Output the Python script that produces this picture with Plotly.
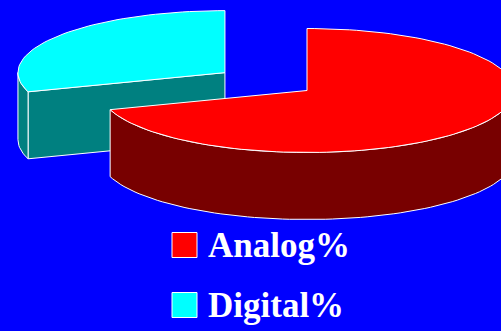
import numpy as np
import plotly.graph_objects as go

# ---- data ----
categories = ["Analog%", "Digital%"]
values = [70, 30]
top_colors = ["#FF0000", "#00FFFF"]
side_colors = ["#780000", "#008080"]
explode = [0.0, 0.49]

# ---- geometry / style (pixel space) ----
W, H = 501, 331
CX, CY = 307.0, 90.5      # pie centre
RX, RY = 207.0, 62.0      # ellipse radii
DEPTH = 67.0              # thickness
BG = "#0000FF"
EDGE = dict(color="white", width=1)

def pt(theta_deg, cx, cy, dz=0.0):
    t = np.radians(theta_deg)
    return cx + RX * np.sin(t), cy - RY * np.cos(t) + dz

def arc(a0, a1, cx, cy, dz=0.0, n=None):
    if n is None:
        n = max(2, int(abs(a1 - a0) / 2) + 2)
    th = np.linspace(a0, a1, n)
    xs, ys = pt(th, cx, cy, dz)
    return list(xs), list(ys)

total = sum(values)
slices = []
start = 0.0
for name, v, tc, sc, ex in zip(categories, values, top_colors, side_colors, explode):
    span = 360.0 * v / total
    a0, a1 = start, start + span
    mid = np.radians((a0 + a1) / 2)
    cx = CX + RX * ex * np.sin(mid)
    cy = CY - RY * ex * np.cos(mid)
    slices.append(dict(name=name, a0=a0, a1=a1, cx=cx, cy=cy, tc=tc, sc=sc))
    start = a1

# back-to-front ordering
slices.sort(key=lambda s: s["cy"])

fig = go.Figure()

def poly(xs, ys, color):
    fig.add_trace(go.Scatter(x=xs + [xs[0]], y=ys + [ys[0]], mode="lines",
                             fill="toself", fillcolor=color, line=EDGE,
                             hoverinfo="skip", showlegend=False))

for s in slices:
    a0, a1, cx, cy = s["a0"], s["a1"], s["cx"], s["cy"]
    # cut face at start edge
    if np.cos(np.radians(a0 - 90)) < -1e-6:
        rx_, ry_ = pt(a0, cx, cy)
        poly([cx, rx_, rx_, cx], [cy, ry_, ry_ + DEPTH, cy + DEPTH], s["sc"])
    # cut face at end edge
    if np.cos(np.radians(a1 + 90)) < -1e-6:
        rx_, ry_ = pt(a1, cx, cy)
        poly([cx, rx_, rx_, cx], [cy, ry_, ry_ + DEPTH, cy + DEPTH], s["sc"])
    # outer wall (front half)
    w0, w1 = max(a0, 90.0), min(a1, 270.0)
    if w1 > w0:
        tx, ty = arc(w0, w1, cx, cy)
        bx, by = arc(w1, w0, cx, cy, DEPTH)
        poly(tx + bx, ty + by, s["sc"])
    # top face
    ax, ay = arc(a0, a1, cx, cy)
    poly([cx] + ax, [cy] + ay, s["tc"])

# legend (manual)
leg_y = [245, 305]
for name, tc, yc in zip(categories, top_colors, leg_y):
    fig.add_shape(type="rect", xref="x", yref="y", x0=172, x1=197,
                  y0=yc - 12.5, y1=yc + 12.5, fillcolor=tc,
                  line=dict(color="white", width=1))
    fig.add_annotation(x=206, y=yc, xref="x", yref="y", text="<b>%s</b>" % name,
                       showarrow=False, xanchor="left", yanchor="middle",
                       font=dict(family="Liberation Serif, Times New Roman, serif",
                                 size=35, color="white"))

fig.update_layout(
    width=W, height=H, margin=dict(l=0, r=0, t=0, b=0),
    paper_bgcolor=BG, plot_bgcolor=BG, showlegend=False,
    xaxis=dict(range=[0, W], visible=False, fixedrange=True),
    yaxis=dict(range=[H, 0], visible=False, fixedrange=True),
)
fig.write_html("out.html")
